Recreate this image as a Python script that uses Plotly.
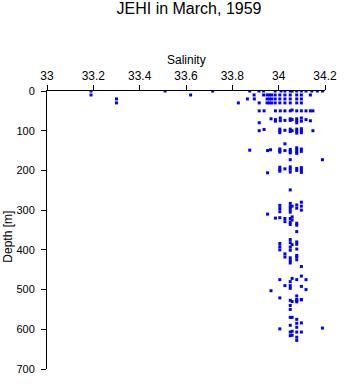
import plotly.graph_objects as go

salinity = [
    # ~0 m
    33.19, 33.51, 33.715, 33.875, 33.915, 33.935, 33.985, 34.01, 34.027, 34.05,
    34.058, 34.078, 34.098, 34.118, 34.143, 34.167, 34.189,
    # ~10 m
    33.19, 33.62, 33.895, 33.894, 33.935, 33.95, 33.96, 33.97, 33.985, 34.005,
    34.027, 34.05, 34.078, 34.098, 34.137,
    # ~20 m
    33.30, 33.865, 33.95, 33.96, 33.97, 33.985, 34.005, 34.027, 34.05, 34.078, 34.098,
    # ~30 m
    33.30, 33.826, 33.916, 33.95, 33.96, 33.97, 33.985, 34.005, 34.027, 34.05,
    34.078, 34.098,
    # ~50 m
    33.916, 33.937, 33.986, 34.007, 34.027, 34.05, 34.058, 34.078, 34.098, 34.118,
    34.137, 34.148,
    # ~75 m
    33.967, 33.986, 33.986, 34.007, 34.007, 34.027, 34.05, 34.05, 34.058, 34.078,
    34.078, 34.078, 34.098, 34.098, 34.118, 34.137, 33.916,
    # ~100 m
    33.916, 33.937, 34.005, 34.005, 34.005, 34.027, 34.05, 34.05, 34.058, 34.078,
    34.078, 34.078, 34.098, 34.098, 34.098, 34.148,
    # ~125-150 m
    34.027, 33.875, 33.952, 33.965, 34.005, 34.005, 34.005, 34.027, 34.05, 34.05,
    34.05, 34.078, 34.078, 34.078, 34.078, 34.098, 34.098,
    # ~175-200 m
    34.05, 34.189, 33.952, 34.005, 34.005, 34.005, 34.027, 34.05, 34.05, 34.05,
    34.078, 34.078, 34.098, 34.098, 34.098,
    # ~250-300 m
    34.05, 33.952, 34.005, 34.005, 34.005, 34.05, 34.05, 34.05, 34.05, 34.058,
    34.078, 34.078, 34.098, 34.098, 34.098, 34.058,
    # ~320-350 m
    33.986, 34.005, 34.027, 34.027, 34.05, 34.05, 34.05, 34.058, 34.078, 34.078, 34.078,
    # ~375-440 m
    34.005, 34.005, 34.005, 34.027, 34.05, 34.05, 34.05, 34.05, 34.058, 34.078,
    34.078, 34.078, 34.078, 34.027, 34.05, 34.05, 34.05, 34.078, 34.078, 34.098,
    # ~465-555 m
    34.005, 34.005, 34.027, 34.05, 34.05, 34.05, 34.058, 34.078, 34.078, 34.078,
    34.078, 34.098, 34.098, 34.098, 34.118, 34.118, 33.967, 34.05, 34.05, 34.05,
    34.058, 34.078, 34.098,
    # ~570-630 m
    34.005, 34.05, 34.05, 34.05, 34.05, 34.058, 34.058, 34.058, 34.078, 34.078,
    34.078, 34.078, 34.078, 34.078, 34.098, 34.098, 34.189,
]
depth = [
    0, 0, 0, 0, 0, 0, 0, 0, 0, 0,
    0, 0, 0, 0, 0, 0, 0,
    10, 10, 20, 10, 10, 10, 10, 10, 10, 10,
    10, 10, 10, 10, 10,
    20, 20, 20, 20, 20, 20, 20, 20, 20, 20, 20,
    30, 30, 30, 30, 30, 30, 30, 30, 30, 30,
    30, 30,
    50, 50, 50, 50, 50, 50, 48, 50, 50, 50,
    50, 50,
    70, 72, 76, 68, 75, 74, 70, 74, 72, 70,
    75, 80, 68, 76, 72, 75, 80,
    100, 97, 96, 100, 105, 99, 96, 102, 100, 96,
    101, 106, 95, 100, 105, 100,
    133, 149, 150, 148, 146, 150, 154, 150, 147, 152,
    156, 143, 148, 153, 157, 146, 152,
    173, 173, 206, 192, 198, 202, 196, 191, 197, 204,
    195, 200, 193, 199, 205,
    249, 310, 288, 296, 304, 283, 291, 298, 305, 290,
    287, 295, 280, 290, 300, 317,
    320, 319, 321, 329, 321, 330, 336, 325, 333, 338, 354,
    384, 392, 400, 410, 374, 382, 393, 401, 387, 380,
    386, 398, 414, 418, 420, 427, 433, 418, 425, 442,
    475, 521, 490, 480, 490, 497, 472, 475, 516, 525,
    531, 466, 492, 526, 475, 500, 503, 527, 540, 550,
    530, 528, 525,
    599, 570, 590, 607, 616, 570, 605, 615, 575, 585,
    595, 607, 620, 628, 584, 607, 597,
]

x_ticks = [33, 33.2, 33.4, 33.6, 33.8, 34, 34.2]
x_tick_text = ["33", "33.2", "33.4", "33.6", "33.8", "34", "34.2"]
y_ticks = [0, 100, 200, 300, 400, 500, 600, 700]

FONT = "Liberation Sans, Arial, sans-serif"

fig = go.Figure(
    go.Scatter(
        x=salinity, y=depth, mode="markers",
        marker=dict(symbol="square", size=3, color="#0000ff", line=dict(width=0)),
        hoverinfo="x+y",
    )
)

fig.update_layout(
    width=346, height=384,
    margin=dict(l=47, r=15, t=91, b=9, pad=0),
    paper_bgcolor="white", plot_bgcolor="white",
    showlegend=False,
    font=dict(family=FONT, color="black", size=12),
    title=dict(text="JEHI in March, 1959", x=(47 + 142) / 346, xanchor="center",
               y=1 - 8 / 384, yanchor="middle", font=dict(size=16, family=FONT, color="black")),
    xaxis=dict(
        side="top", range=[33, 34.2], tickvals=x_ticks, ticktext=x_tick_text,
        showgrid=False, zeroline=False, showline=True, linecolor="black", linewidth=1,
        ticks="outside", ticklen=5, tickcolor="black", tickwidth=1,
        tickfont=dict(size=12, family=FONT, color="black"),
    ),
    yaxis=dict(
        range=[700, 0], tickvals=y_ticks,
        showgrid=False, zeroline=False, showline=True, linecolor="black", linewidth=1,
        ticks="outside", ticklen=5, tickcolor="black", tickwidth=1,
        tickfont=dict(size=11, family=FONT, color="black"),
        ticklabelstandoff=4,
    ),
    annotations=[
        dict(text="Salinity", xref="paper", yref="paper", x=0.5, y=(375 - 59) / 284,
             xanchor="center", yanchor="middle", showarrow=False,
             font=dict(size=12, family=FONT, color="black")),
        dict(text="Depth [m]", xref="paper", yref="paper", x=(7 - 47) / 284, y=(375 - 240) / 284,
             xanchor="center", yanchor="middle", textangle=-90, showarrow=False,
             font=dict(size=12, family=FONT, color="black")),
    ],
)

fig.write_html("out.html")
